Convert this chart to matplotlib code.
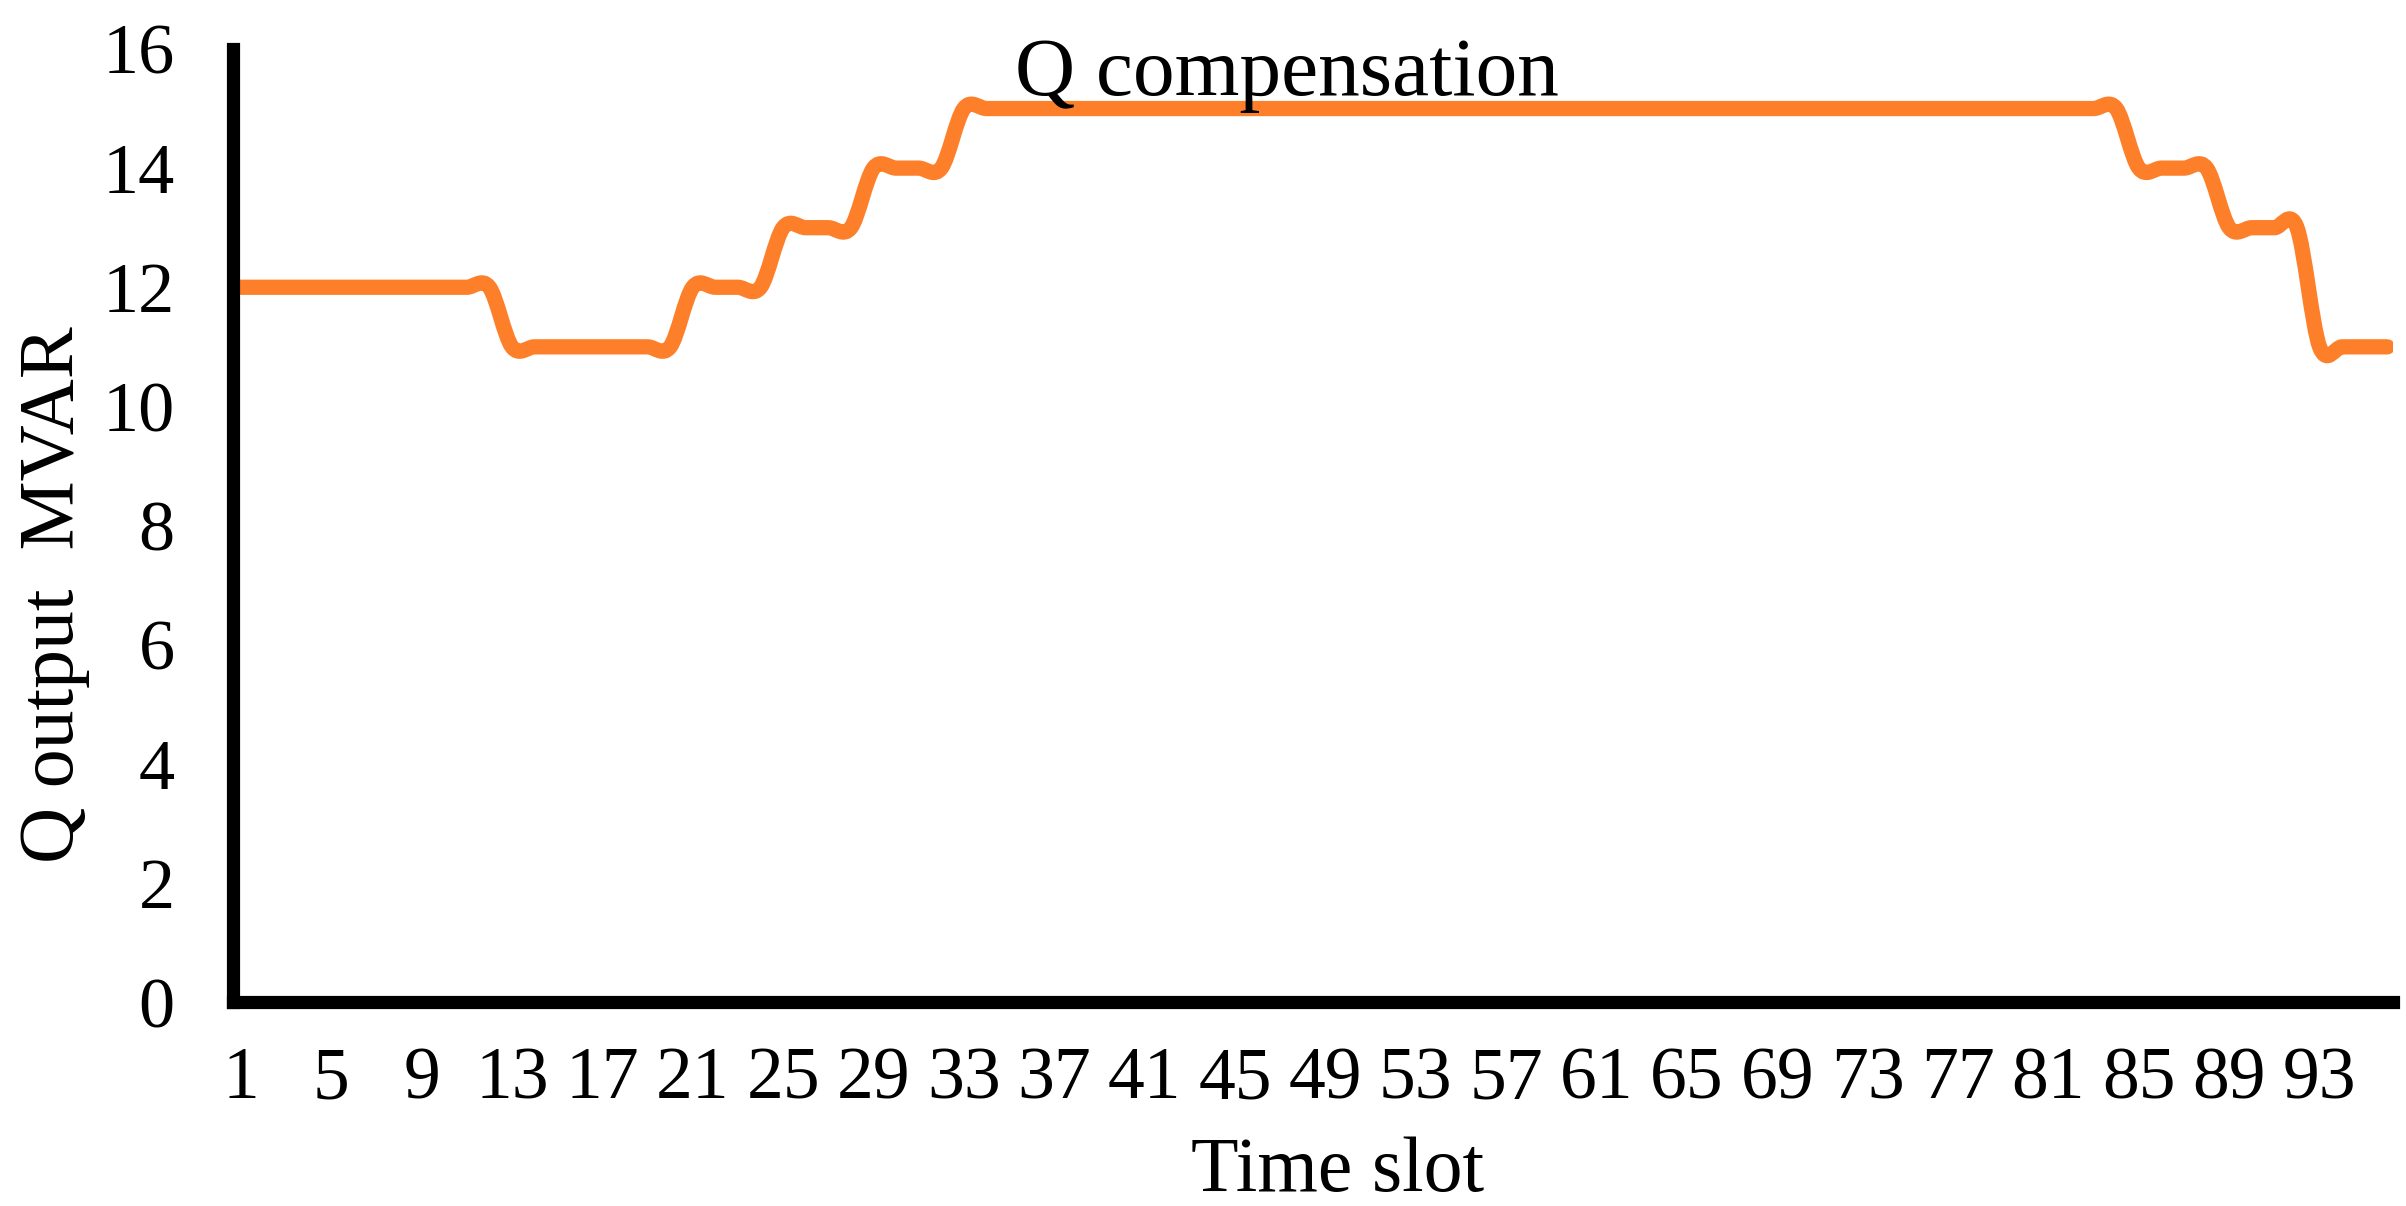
import matplotlib.pyplot as plt
from matplotlib.path import Path
from matplotlib.patches import PathPatch

plt.rcParams['font.family'] = ['Liberation Serif', 'DejaVu Serif']

# time slots 1..96 and reactive power output (MVAR)
slots = list(range(1, 97))
q_output = ([12] * 12 + [11] * 8 + [12] * 4 + [13] * 4 + [14] * 4 +
            [15] * 52 + [14] * 4 + [13] * 4 + [11] * 4)
x_ticks = list(range(1, 97, 4))
y_ticks = list(range(0, 17, 2))

orange = '#FE7F2A'


def smooth_path(xs, ys):
    # excel style smoothed line: cubic bezier through each point
    n = len(xs)
    verts = [(xs[0], ys[0])]
    codes = [Path.MOVETO]
    for i in range(n - 1):
        i0 = max(i - 1, 0)
        i3 = min(i + 2, n - 1)
        c1 = (xs[i] + (xs[i + 1] - xs[i0]) / 6, ys[i] + (ys[i + 1] - ys[i0]) / 6)
        c2 = (xs[i + 1] - (xs[i3] - xs[i]) / 6, ys[i + 1] - (ys[i3] - ys[i]) / 6)
        verts += [c1, c2, (xs[i + 1], ys[i + 1])]
        codes += [Path.CURVE4] * 3
    return Path(verts, codes)


fig = plt.figure(figsize=(24.06, 12.06), dpi=100)
ax = fig.add_axes([0.0968, 0.169, 0.898, 0.7904])

patch = PathPatch(smooth_path(slots, q_output), facecolor='none', edgecolor=orange,
                  linewidth=11, capstyle='round', joinstyle='round')
ax.add_patch(patch)

ax.set_xlim(0.65, 96.27)
ax.set_ylim(0, 16)

for side in ['top', 'right']:
    ax.spines[side].set_visible(False)
for side in ['left', 'bottom']:
    ax.spines[side].set_linewidth(9.5)
    ax.spines[side].set_capstyle('projecting')

ax.set_xticks(x_ticks)
ax.set_xticklabels([str(t) for t in x_ticks], fontsize=53)
ax.set_yticks(y_ticks)
ax.set_yticklabels([str(t) for t in y_ticks], fontsize=52)
ax.tick_params(axis='x', length=0, pad=32)
ax.tick_params(axis='y', length=0, pad=42)

fig.text(0.535, 0.921, 'Q compensation', fontsize=60, ha='center', va='baseline')
fig.text(0.556, 0.0125, 'Time slot', fontsize=56, ha='center', va='baseline')
fig.text(0.0224, 0.507, 'Q output  MVAR', fontsize=56, ha='center', va='center',
         rotation=90)

fig.savefig('out.png', dpi=100)
